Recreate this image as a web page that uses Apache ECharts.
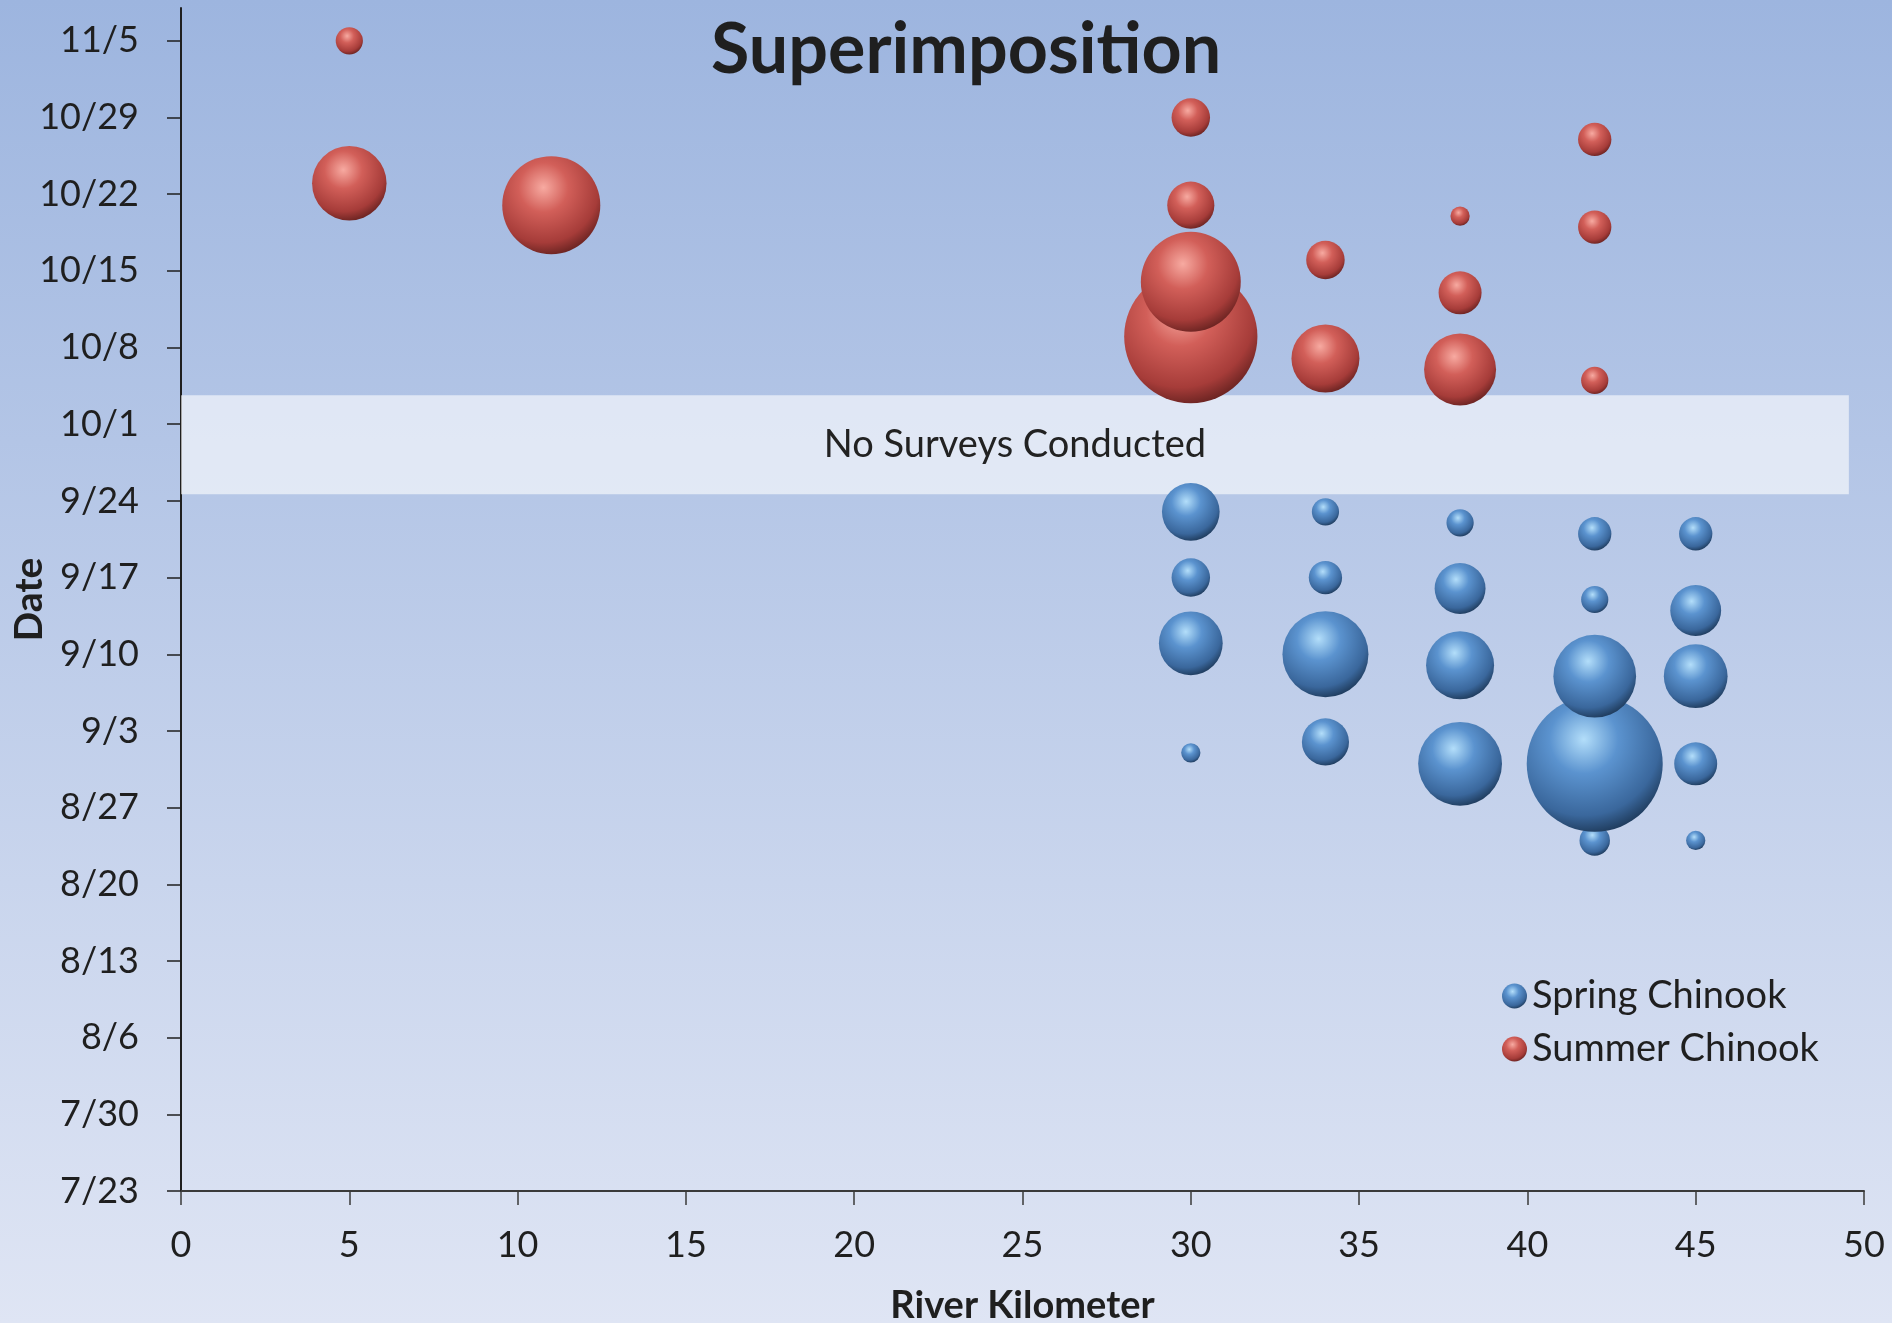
<!DOCTYPE html>
<html>
<head>
<meta charset="utf-8">
<script src="https://cdn.jsdelivr.net/npm/echarts@6/dist/echarts.min.js"></script>
<style>
html,body{margin:0;padding:0;background:#fff;}
#chart{width:1892px;height:1323px;}
</style>
</head>
<body>
<div id="chart"></div>
<script>
// ---- data ----
const dateTickLabels = ['7/23','7/30','8/6','8/13','8/20','8/27','9/3','9/10','9/17','9/24','10/1','10/8','10/15','10/22','10/29','11/5'];
const kmTicks = [0,5,10,15,20,25,30,35,40,45,50];

const springKm    = [30,30,30,30, 34,34,34,34, 38,38,38,38, 42,42,42,42,42, 45,45,45,45,45];
const springDate  = ['9/1','9/11','9/17','9/23', '9/2','9/10','9/17','9/23', '8/31','9/9','9/16','9/22', '8/24','8/31','9/8','9/15','9/21', '8/24','8/31','9/8','9/14','9/21'];
const springCount = [2,22,8,18, 12,40,6,4, 38,25,14,4, 5,100,37,4,6, 2,10,22,14,6];

const summerKm    = [5,5, 11, 30,30,30,30, 34,34, 38,38,38, 42,42,42];
const summerDate  = ['10/23','11/5', '10/21', '10/9','10/14','10/21','10/29', '10/7','10/16', '10/6','10/13','10/20', '10/5','10/19','10/27'];
const summerCount = [30,4, 52, 96,54,12,8, 25,8, 28,10,2, 4,6,6];

const noSurveyLabel = 'No Surveys Conducted';
const noSurveyFromDay = 63.6, noSurveyToDay = 72.65, noSurveyKmFrom = 0, noSurveyKmTo = 49.55;

// ---- helpers ----
function dayOf(label){
  const p = label.split('/').map(Number);
  const s = dateTickLabels[0].split('/').map(Number);
  return Math.round((Date.UTC(2001, p[0]-1, p[1]) - Date.UTC(2001, s[0]-1, s[1])) / 86400000);
}
const tickDays = dateTickLabels.map(dayOf);
const labelByDay = {};
dateTickLabels.forEach((l,i)=>{ labelByDay[tickDays[i]] = l; });

function build(km, dates, counts){
  return km.map((k,i)=>[k, dayOf(dates[i]), counts[i]]);
}

const FONT = 'Lato, "Noto Sans", sans-serif';
function sphere(c0,c1,c2,c3){
  return {type:'radial', x:0.42, y:0.32, r:0.72, colorStops:[
    {offset:0,color:c0},{offset:0.35,color:c1},{offset:0.78,color:c2},{offset:1,color:c3}]};
}
const blueFill = sphere('#b3defa','#5b93cf','#3a679c','#1b3553');
const redFill  = sphere('#f7aaa1','#d25f59','#a63c39','#62201e');
const sizeFn = d => Math.sqrt(d[2]) * 13.6;

const chart = echarts.init(document.getElementById('chart'), null, {renderer:'canvas'});
chart.setOption({
  backgroundColor: {type:'linear', x:0, y:0, x2:0, y2:1, colorStops:[
    {offset:0, color:'#9db5df'}, {offset:1, color:'#dfe5f4'}]},
  animation:false,
  title:{
    text:'Superimposition', left:706, top:10,
    textStyle:{fontFamily:FONT, fontWeight:'bold', fontSize:70, color:'#1f1f1f'}
  },
  legend:{
    orient:'vertical', left:1497, top:972, itemWidth:25, itemHeight:25, itemGap:15,
    icon:'circle',
    data:['Spring Chinook','Summer Chinook'],
    textStyle:{fontFamily:FONT, fontSize:38, color:'#1f1f1f'}
  },
  grid:{left:181, right:28, top:8, bottom:132, containLabel:false, outerBoundsMode:'none'},
  xAxis:{
    type:'value', min:0, max:50, interval:5,
    name:'River Kilometer', nameLocation:'middle', nameGap:96, nameMoveOverlap:false,
    nameTextStyle:{fontFamily:FONT, fontWeight:'bold', fontSize:38, color:'#1f1f1f', verticalAlign:'top'},
    axisLine:{show:true, lineStyle:{color:'#3a3a3a', width:2}},
    axisTick:{show:true, inside:false, length:14, lineStyle:{color:'#3a3a3a', width:1.5}},
    axisLabel:{margin:36, fontFamily:FONT, fontSize:36, color:'#1f1f1f',
      customValues: kmTicks},
    splitLine:{show:false}
  },
  yAxis:{
    type:'value', min:0, max:108,
    name:'Date', nameLocation:'middle', nameGap:132, nameRotate:90, nameMoveOverlap:false,
    nameTextStyle:{fontFamily:FONT, fontWeight:'bold', fontSize:39, color:'#1f1f1f'},
    axisLine:{show:true, lineStyle:{color:'#1f1f1f', width:2}},
    axisTick:{show:true, inside:false, length:14, lineStyle:{color:'#1f1f1f', width:1.5}, customValues: tickDays},
    axisLabel:{margin:42, fontFamily:FONT, fontSize:36, color:'#1f1f1f',
      customValues: tickDays,
      formatter: v => labelByDay[Math.round(v)] || ''},
    splitLine:{show:false}
  },
  series:[
    {name:'Spring Chinook', type:'scatter', symbol:'circle', symbolSize:sizeFn,
     itemStyle:{color:blueFill, opacity:1},
     data: build(springKm, springDate, springCount), z:2},
    {name:'Summer Chinook', type:'scatter', symbol:'circle', symbolSize:sizeFn,
     itemStyle:{color:redFill, opacity:1},
     data: build(summerKm, summerDate, summerCount), z:2},
    {name:'band', type:'scatter', data:[], z:5, silent:true,
     markArea:{silent:true,
       itemStyle:{color:'rgba(255,255,255,0.6)'},
       label:{show:true, position:'inside', formatter:noSurveyLabel,
         fontFamily:FONT, fontSize:38, color:'#222'},
       data:[[{coord:[noSurveyKmFrom, noSurveyFromDay]},{coord:[noSurveyKmTo, noSurveyToDay]}]]
     }}
  ]
});
</script>
</body>
</html>
